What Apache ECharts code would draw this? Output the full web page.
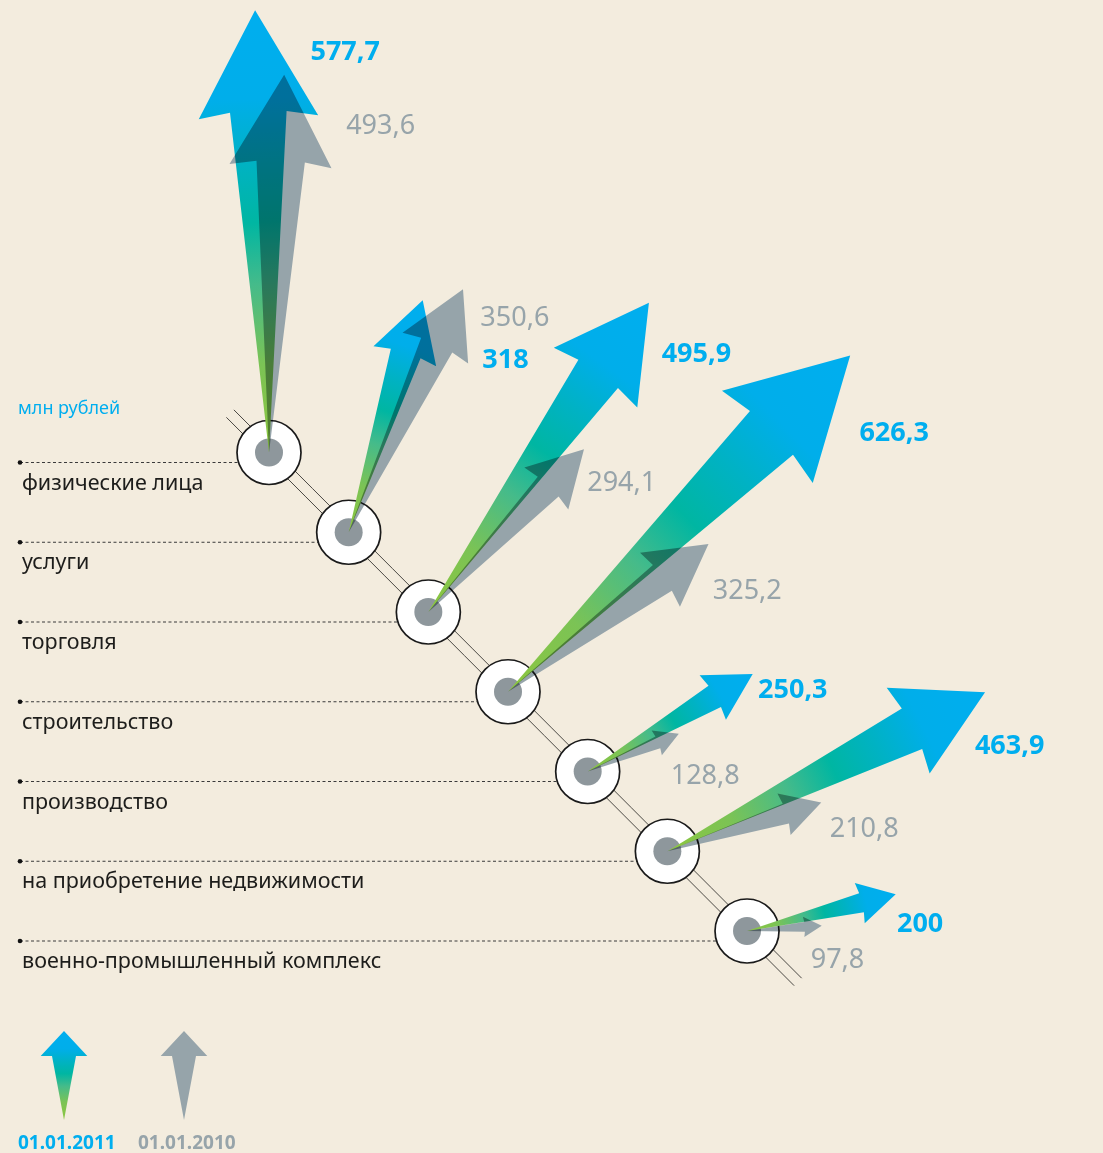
<!DOCTYPE html>
<html><head><meta charset="utf-8">
<script src="https://cdn.jsdelivr.net/npm/echarts@6/dist/echarts.min.js"></script>
<style>
html,body{margin:0;padding:0;background:#f3ecde;}
#chart{width:1103px;height:1153px;}
</style>
</head><body><div id="chart"></div>
<script>
// ---------- data ----------
const categories = ['физические лица','услуги','торговля','строительство','производство','на приобретение недвижимости','военно-промышленный комплекс'];
const values2011 = [577.7, 318, 495.9, 626.3, 250.3, 463.9, 200];
const values2010 = [493.6, 350.6, 294.1, 325.2, 128.8, 210.8, 97.8];
const seriesNames = ['01.01.2011', '01.01.2010'];
const unitLabel = 'млн рублей';

// ---------- layout (not data) ----------
// arrow directions, degrees counter-clockwise from +x
const angle2011 = [91.8, 72.3, 54.5, 44.5, 30.6, 26.6, 13.9];
const angle2010 = [87.7, 64.8, 46.3, 36.4, 22.5, 17.6, 4.1];
// value-label placement in arrow-local coords: [fraction of arrow length, px to the right of the axis]
const labelPos2011 = [[0.90,54],[0.84,75],[0.91,40],[0.90,62],[0.98,17],[0.906,44],[0.96,30]];
const labelPos2010 = [[0.87,64],[0.93,28],[0.90,26],[0.90,41],[0.76,36],[1.0,28],[0.82,34]];

const LAYOUT = { cx0: 269, stepX: 79.67, cy0: 452.5, stepY: 79.75, axisMax: 1440 };
const BLUE = '#00aeef', GRAY = '#96a4aa', GRAY_TXT = '#97a4aa';
const FONT = '"Noto Sans", "Open Sans", sans-serif';
const BLUE_STOPS = [
  {offset:0, color:'#8dc63f'}, {offset:0.2, color:'#7bc355'}, {offset:0.38, color:'#45bb8a'},
  {offset:0.52, color:'#00b6a2'}, {offset:0.66, color:'#00b2c4'}, {offset:0.8, color:'#00aeea'},
  {offset:1, color:'#00aeef'}
];

const fmt = v => String(v).replace('.', ',');

function center(api, i) {
  const cy = api.coord([0, i])[1];
  return [LAYOUT.cx0 + i * LAYOUT.stepX, cy];
}
function frame(ox, oy, ang) {
  const a = ang * Math.PI / 180;
  const d = [Math.cos(a), -Math.sin(a)];
  const rn = [-d[1], d[0]];
  return (u, v) => [ox + d[0]*u + rn[0]*v, oy + d[1]*u + rn[1]*v];
}
function arrowPts(P, L) {
  const hl = 0.23*L, hw = 0.135*L, sw = 0.064*L, bb = 0.012*L;
  return [P(0,0), P(L-hl, sw), P(L-hl-bb, hw), P(L,0), P(L-hl-bb,-hw), P(L-hl,-sw)];
}

const chart = echarts.init(document.getElementById('chart'), null, {renderer:'canvas'});

function baseRender(params, api) {
  const i = api.value(1);
  const [cx, cy] = center(api, i);
  const n = categories.length;
  const sl = Math.hypot(LAYOUT.stepX, LAYOUT.stepY);
  const e = [LAYOUT.stepX/sl, LAYOUT.stepY/sl];
  const p = [e[1], -e[0]];
  const a = i === 0 ? 55 : sl/2, b = i === n-1 ? 72 : sl/2;
  const rails = [-5.3, 5.3].map(off => ({
    type:'line',
    shape:{ x1: cx - e[0]*a + p[0]*off, y1: cy - e[1]*a + p[1]*off,
            x2: cx + e[0]*b + p[0]*off, y2: cy + e[1]*b + p[1]*off },
    style:{ stroke:'#4a4843', lineWidth:1 }
  }));
  return { type:'group', children: rails.concat([
    { type:'line', shape:{x1:20, y1:cy+10, x2:cx, y2:cy+10},
      style:{stroke:'#3a3a3a', lineWidth:1, lineDash:[3,2.5]} },
    { type:'circle', shape:{cx:20, cy:cy+10, r:2.3}, style:{fill:'#111'} },
    { type:'text', style:{ text: categories[i], x:22, y:cy+31, fill:'#1d1d1b',
      fontSize:21.5, fontFamily:FONT, align:'left', verticalAlign:'middle' } }
  ])};
}
function circleRender(params, api) {
  const i = api.value(1);
  const [cx, cy] = center(api, i);
  return { type:'group', children:[
    { type:'circle', shape:{cx, cy, r:32}, style:{fill:'#ffffff', stroke:'#1a1a1a', lineWidth:1.7} },
    { type:'circle', shape:{cx, cy, r:14}, style:{fill:'#8e979c'} }
  ]};
}
function arrowRender(which) {
  return function(params, api) {
    const v = api.value(0), i = api.value(1);
    const [cx, cy] = center(api, i);
    const L = api.size([v, 0])[0];
    const ang = which === 0 ? angle2011[i] : angle2010[i];
    const P = frame(cx, cy, ang);
    const pts = arrowPts(P, L);
    let style;
    if (which === 0) {
      const t = P(L, 0);
      style = { fill: new echarts.graphic.LinearGradient(cx, cy, t[0], t[1], BLUE_STOPS, true) };
    } else {
      style = { fill: GRAY, blend: 'multiply' };
    }
    return { type:'polygon', shape:{ points: pts }, style };
  };
}
function labelRender(which) {
  return function(params, api) {
    const v = api.value(0), i = api.value(1);
    const [cx, cy] = center(api, i);
    const L = api.size([v, 0])[0];
    const ang = which === 0 ? angle2011[i] : angle2010[i];
    const lp = which === 0 ? labelPos2011[i] : labelPos2010[i];
    const P = frame(cx, cy, ang);
    const q = P(lp[0]*L, lp[1]);
    return { type:'text', style:{ text: fmt(v), x:q[0], y:q[1],
      fill: which === 0 ? BLUE : GRAY_TXT, fontSize:27,
      fontWeight: which === 0 ? 'bold' : 'normal', fontFamily:FONT,
      align:'left', verticalAlign:'middle' } };
  };
}

const idx = categories.map((c, i) => [0, i]);
const d2011 = values2011.map((v, i) => [v, i]);
const d2010 = values2010.map((v, i) => [v, i]);

const legendGrad = new echarts.graphic.LinearGradient(0, 1, 0, 0, BLUE_STOPS);
function legendArrow(x, fill) {
  return { type:'polygon', silent:true,
    shape:{ points:[[x,1031],[x+23.3,1056],[x+12,1056],[x,1120],[x-12,1056],[x-23.3,1056]] },
    style:{ fill } };
}

chart.setOption({
  backgroundColor: 'transparent',
  animation: false,
  grid: { left:0, width:1103, top: LAYOUT.cy0 - LAYOUT.stepY/2, height: LAYOUT.stepY*categories.length },
  xAxis: { type:'value', min:0, max:LAYOUT.axisMax, show:false },
  yAxis: { type:'category', data: categories, inverse:true, show:false },
  series: [
    { type:'custom', name:'base', silent:true, data: idx, encode:{x:0,y:1}, renderItem: baseRender },
    { type:'custom', name:'circles', silent:true, data: idx, encode:{x:0,y:1}, renderItem: circleRender },
    { type:'custom', name: seriesNames[0], silent:true, data: d2011, encode:{x:0,y:1}, renderItem: arrowRender(0) },
    { type:'custom', name: seriesNames[1], silent:true, data: d2010, encode:{x:0,y:1}, renderItem: arrowRender(1) },
    { type:'custom', name:'labels2011', silent:true, data: d2011, encode:{x:0,y:1}, renderItem: labelRender(0) },
    { type:'custom', name:'labels2010', silent:true, data: d2010, encode:{x:0,y:1}, renderItem: labelRender(1) }
  ],
  graphic: [
    { type:'text', left:18, top:400, silent:true, style:{ text: unitLabel, fill: BLUE, fontSize:18, fontFamily:FONT } },
    legendArrow(64, legendGrad),
    legendArrow(184, GRAY),
    { type:'text', left:18, top:1134, silent:true, style:{ text: seriesNames[0], fill: BLUE, fontSize:19, fontWeight:'bold', fontFamily:FONT } },
    { type:'text', left:138, top:1134, silent:true, style:{ text: seriesNames[1], fill: GRAY_TXT, fontSize:19, fontWeight:'bold', fontFamily:FONT } }
  ]
});

// make the 2010 arrows darken what lies beneath them (overprint effect of the original)
(function applyMultiply() {
  const zr = chart.getZr();
  zr.storage.getDisplayList(true).forEach(el => {
    if (el.type === 'polygon' && el.style && el.style.fill === GRAY) {
      el.style.blend = 'multiply';
      el.markRedraw();
    }
  });
  zr.refreshImmediately();
})();
</script>
</body></html>
